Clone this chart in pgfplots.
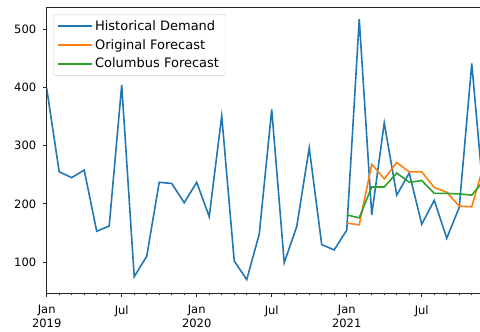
\documentclass[border=0pt]{standalone}
\usepackage{pgfplots}
\pgfplotsset{compat=1.18}
\usepackage{fontspec}
\setmainfont{DejaVu Sans}
\definecolor{tabblue}{HTML}{1F77B4}
\definecolor{taborange}{HTML}{FF7F0E}
\definecolor{tabgreen}{HTML}{2CA02C}
\begin{document}
\begin{tikzpicture}
\begin{axis}[
  name=ax,
  scale only axis,
  width=433.3pt, height=285.8pt,
  xmin=0, xmax=34.66, ymin=46.5, ymax=537,
  axis y line*=left,
  axis line style={black!85, line width=0.8pt},
  xtick={0,6,12,18,24,30},
  xticklabels={{Jan\\2019},Jul,{Jan\\2020},Jul,{Jan\\2021},Jul},
  minor xtick={1,2,3,4,5,7,8,9,10,11,13,14,15,16,17,19,20,21,22,23,25,26,27,28,29,31,32,33,34,35},
  xtick pos=left,
  ytick={100,200,300,400,500},
  tick align=outside,
  major tick length=3.5pt, minor tick length=2pt,
  every tick/.style={black!85, line width=0.8pt},
  xticklabel style={align=center, font=\fontsize{11.5}{13.5}\selectfont, yshift=-5pt},
  yticklabel style={font=\fontsize{11.5}{13.5}\selectfont, xshift=-3.5pt},
  /pgf/number format/assume math mode=true,
  legend style={at={(axis description cs:0.0152,0.977)}, anchor=north west,
    draw=black!20, rounded corners=2pt, fill=white, fill opacity=0.8, text opacity=1,
    font=\fontsize{13}{15}\selectfont, inner xsep=4pt, inner ysep=4pt, row sep=3.5pt},
  legend cell align=left,
  legend image code/.code={\draw[#1] (0pt,0pt) -- (28pt,0pt); \path (0pt,0pt) -- (34pt,0pt);},
  clip=true,
]
\addplot[tabblue, line width=1.6pt] coordinates {
(0,398) (1,255) (2,245) (3,258) (4,153) (5,162) (6,404) (7,75) (8,110) (9,237)
(10,235) (11,202) (12,237) (13,178) (14,351) (15,102) (16,70) (17,148) (18,362) (19,99)
(20,161) (21,296) (22,130) (23,121) (24,155) (25,517) (26,181) (27,339) (28,215) (29,253)
(30,165) (31,206) (32,141) (33,194) (34,441) (35,199)};
\addlegendentry{Historical Demand}
\addplot[taborange, line width=1.6pt] coordinates {
(24,167) (25,164) (26,268) (27,243) (28,271) (29,255) (30,255) (31,228) (32,220) (33,196) (34,195) (35,270)};
\addlegendentry{Original Forecast}
\addplot[tabgreen, line width=1.6pt] coordinates {
(24,181) (25,176) (26,229) (27,229) (28,253) (29,237) (30,240) (31,218) (32,218) (33,217) (34,215) (35,241)};
\addlegendentry{Columbus Forecast}
\end{axis}
\pgfresetboundingbox
\path[use as bounding box] ([xshift=-46.7pt,yshift=-37.7pt]ax.south west) rectangle ([yshift=7.5pt]ax.north east);
\end{tikzpicture}
\end{document}
